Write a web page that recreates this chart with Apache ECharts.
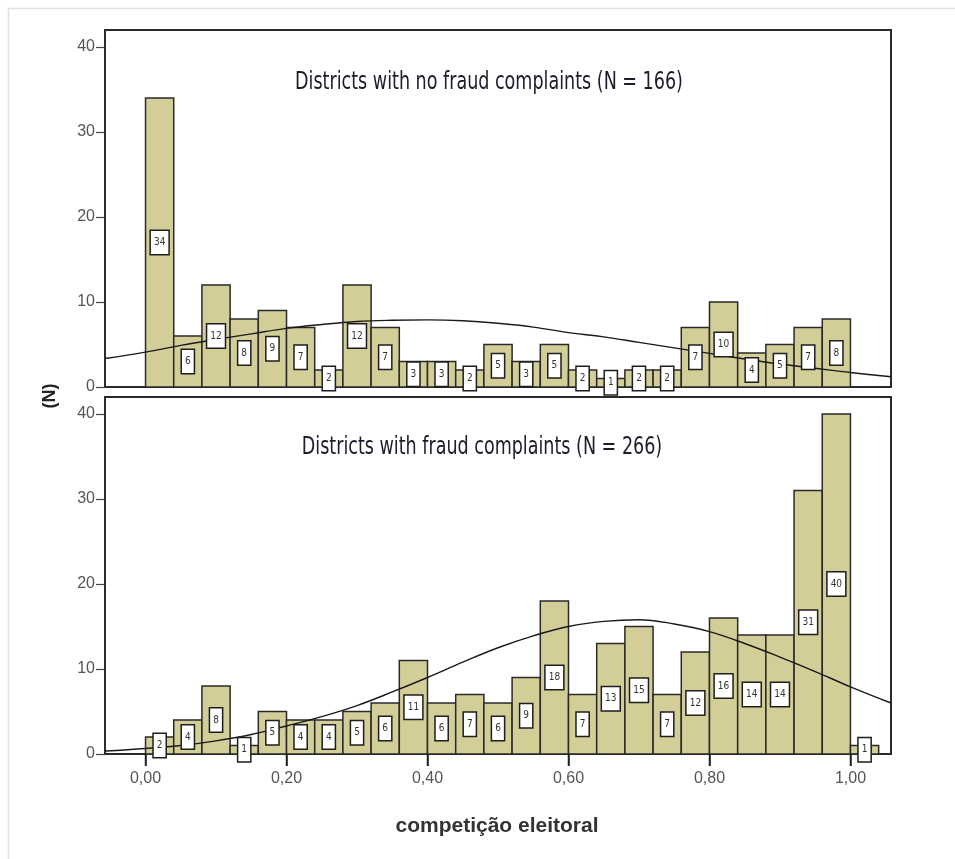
<!DOCTYPE html>
<html>
<head>
<meta charset="utf-8">
<script src="https://cdn.jsdelivr.net/npm/echarts@6/dist/echarts.min.js"></script>
<style>
html,body{margin:0;padding:0;background:#fff;}
#chart{width:955px;height:859px;}
</style>
</head>
<body>
<div id="chart"></div>
<script>
// ---- data ----
const binLower = [0.00,0.04,0.08,0.12,0.16,0.20,0.24,0.28,0.32,0.36,0.40,0.44,0.48,0.52,0.56,0.60,0.64,0.68,0.72,0.76,0.80,0.84,0.88,0.92,0.96,1.00];
const binUpper = [0.04,0.08,0.12,0.16,0.20,0.24,0.28,0.32,0.36,0.40,0.44,0.48,0.52,0.56,0.60,0.64,0.68,0.72,0.76,0.80,0.84,0.88,0.92,0.96,1.00,1.04];
const noFraudCounts = [34,6,12,8,9,7,2,12,7,3,3,2,5,3,5,2,1,2,2,7,10,4,5,7,8,0];
const fraudCounts   = [2,4,8,1,5,4,4,5,6,11,6,7,6,9,18,7,13,15,7,12,16,14,14,31,40,1];
const curveX = [-0.0575,0.00,0.05,0.10,0.15,0.20,0.25,0.30,0.35,0.40,0.45,0.50,0.55,0.60,0.65,0.70,0.75,0.80,0.85,0.90,0.95,1.00,1.0575];
const noFraudCurve = [3.35,4.1,4.9,5.6,6.25,6.9,7.35,7.7,7.85,7.9,7.8,7.5,7.05,6.4,5.9,5.25,4.6,3.95,3.3,2.7,2.2,1.7,1.2];
const fraudCurve   = [0.35,0.65,1.0,1.55,2.3,3.3,4.4,5.7,7.3,9.0,10.8,12.5,13.9,15.0,15.6,15.8,15.3,14.4,13.0,11.4,9.7,7.9,6.0];
const xTicks = [0.0,0.2,0.4,0.6,0.8,1.0];
const yTicks = [0,10,20,30,40];
const titles = ['Districts with no fraud complaints (N = 166)','Districts with fraud complaints (N = 266)'];
const yName = '(N)';
const xName = 'competição eleitoral';

// ---- chart ----
const NARROW = '"Liberation Sans Narrow","Arial Narrow","DejaVu Sans Condensed",sans-serif';
const SANS = '"Liberation Sans",Arial,sans-serif';
const chart = echarts.init(document.getElementById('chart'), null, {renderer:'canvas'});

function binData(counts){
  return counts.map((c,i)=>[binLower[i], binUpper[i], c]);
}
function renderBar(params, api){
  const v = api.value(2);
  if (!v) return null;
  const p0 = api.coord([api.value(0), v]);
  const p1 = api.coord([api.value(1), 0]);
  return {type:'rect', shape:{x:p0[0], y:p0[1], width:p1[0]-p0[0], height:p1[1]-p0[1]},
    style:{fill:'#d3ce98', stroke:'#2a2a2a', lineWidth:1.5}};
}
function renderLabel(params, api){
  const v = api.value(2);
  if (!v) return null;
  const p = api.coord([(api.value(0)+api.value(1))/2, v/2]);
  return {type:'text', x:p[0], y:p[1], z2:10,
    style:{text:String(v), align:'center', verticalAlign:'middle', fontSize:10, lineHeight:11,
      fontFamily:NARROW, fill:'#333', backgroundColor:'#fff', borderColor:'#1e1e1e', borderWidth:1.5, padding:[6,3]}};
}
// x-axis tick marks placed through the axis scale
function renderXTick(params, api){
  const c = api.coord([api.value(0), 0]);
  return {type:'line', shape:{x1:c[0], y1:c[1], x2:c[0], y2:c[1]+12}, style:{stroke:'#222', lineWidth:1.5}};
}
const fmtX = v => v.toFixed(2).replace('.', ',');
const XMIN = -0.0575, XMAX = 1.0575;

const xAxes = [
  {type:'value', gridIndex:0, min:XMIN, max:XMAX,
    axisLine:{show:false, onZero:false}, splitLine:{show:false},
    axisTick:{show:false}, axisLabel:{show:false}},
  {type:'value', gridIndex:1, min:XMIN, max:XMAX,
    axisLine:{show:true, onZero:false, lineStyle:{color:'#2b2b2b', width:2}}, splitLine:{show:false},
    axisTick:{show:true, customValues:xTicks, length:12, lineStyle:{color:'#222', width:1.5}},
    axisLabel:{customValues:xTicks, formatter:fmtX, color:'#555', fontSize:16, fontFamily:SANS, margin:17}}
];
function yAxis(idx){
  return {type:'value', gridIndex:idx, min:0, max:42,
    axisLine:{show:false, onZero:false}, splitLine:{show:false},
    axisTick:{show:true, customValues:yTicks, length:9, lineStyle:{color:'#444', width:1.2}},
    axisLabel:{customValues:yTicks, color:'#555', fontSize:16, fontFamily:SANS, margin:10}};
}
const gridStyle = {show:true, borderColor:'#2b2b2b', borderWidth:2};

const option = {
  animation:false,
  backgroundColor:'#fff',
  grid:[
    Object.assign({left:105, top:30, width:786, height:357}, gridStyle),
    Object.assign({left:105, top:397, width:786, height:357}, gridStyle)
  ],
  xAxis:xAxes,
  yAxis:[yAxis(0), yAxis(1)],
  series:[
    {type:'custom', xAxisIndex:0, yAxisIndex:0, data:binData(noFraudCounts), renderItem:renderBar, z:2, clip:false},
    {type:'custom', xAxisIndex:1, yAxisIndex:1, data:binData(fraudCounts), renderItem:renderBar, z:2, clip:false},
    {type:'line', xAxisIndex:0, yAxisIndex:0, data:curveX.map((x,i)=>[x,noFraudCurve[i]]), smooth:0.4, showSymbol:false, symbol:'none',
      lineStyle:{color:'#1a1a1a', width:1.4}, z:3},
    {type:'line', xAxisIndex:1, yAxisIndex:1, data:curveX.map((x,i)=>[x,fraudCurve[i]]), smooth:0.4, showSymbol:false, symbol:'none',
      lineStyle:{color:'#1a1a1a', width:1.4}, z:3},
    {type:'custom', xAxisIndex:0, yAxisIndex:0, data:binData(noFraudCounts), renderItem:renderLabel, z:5, clip:false},
    {type:'custom', xAxisIndex:1, yAxisIndex:1, data:binData(fraudCounts), renderItem:renderLabel, z:5, clip:false},
    {type:'custom', xAxisIndex:1, yAxisIndex:1, data:xTicks.map(v=>[v,0]), renderItem:renderXTick, z:6, clip:false, silent:true}
  ],
  graphic:[
    {type:'rect', x:8.5, y:8.5, shape:{width:1000, height:1000}, style:{fill:'none', stroke:'#e2e2e2', lineWidth:1.5}, z:-1, silent:true},
    {type:'text', x:489, y:82, scaleX:0.78, style:{text:titles[0], align:'center', verticalAlign:'middle', fontSize:25, fontFamily:NARROW, fill:'#1c1c2a'}},
    {type:'text', x:482, y:447, scaleX:0.78, style:{text:titles[1], align:'center', verticalAlign:'middle', fontSize:25, fontFamily:NARROW, fill:'#1c1c2a'}},
    {type:'text', x:50, y:396, rotation:Math.PI/2, style:{text:yName, align:'center', verticalAlign:'middle', fontSize:18, fontWeight:'bold', fontFamily:SANS, fill:'#222'}},
    {type:'text', x:497, y:826, style:{text:xName, align:'center', verticalAlign:'middle', fontSize:21, fontWeight:'bold', fontFamily:SANS, fill:'#333'}}
  ]
};
chart.setOption(option);
</script>
</body>
</html>
